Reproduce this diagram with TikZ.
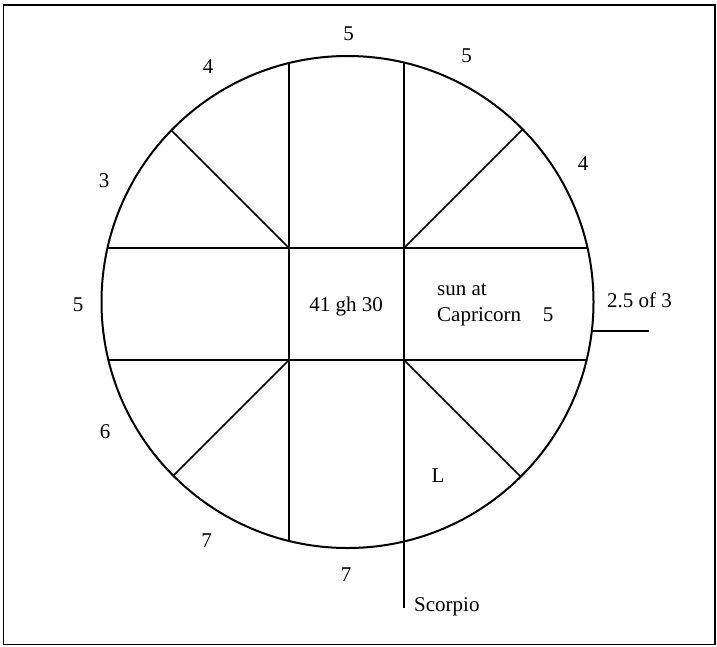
\documentclass[tikz,border=0pt]{standalone}
\usepackage{fontspec}
\setmainfont{Liberation Serif}
\begin{document}
\begin{tikzpicture}[x=1pt,y=-1pt,
    lbl/.style={font=\fontsize{21}{25}\selectfont, inner sep=0pt, anchor=base},
    rim/.style={line width=2pt},
    spoke/.style={line width=1.6pt}]
    \useasboundingbox (0,0) rectangle (717,646);

    % Draw frame
    \draw[line width=1.8pt] (3.5,5) rectangle (715,644.5);

    % Draw wheel
    \coordinate (hub) at (347.5,302);
    \draw[rim] (hub) circle[radius=246pt];

    % Inner square corners
    \coordinate (nw) at (289,248);
    \coordinate (ne) at (404,248);
    \coordinate (sw) at (289,360);
    \coordinate (se) at (404,360);

    % Points on the rim
    \coordinate (rimWN) at (107.5,248);
    \coordinate (rimEN) at (587.5,248);
    \coordinate (rimWS) at (108.4,360);
    \coordinate (rimES) at (586.6,360);
    \coordinate (rimNW) at (289,63);
    \coordinate (rimNE) at (404,62.6);
    \coordinate (rimSW) at (289,541);
    \coordinate (tail) at (404,608);
    \coordinate (diagNW) at (171.3,130.3);
    \coordinate (diagNE) at (522.7,129.3);
    \coordinate (diagSW) at (173.3,475.7);
    \coordinate (diagSE) at (520.7,476.7);

    % Draw chords
    \draw[spoke] (rimWN) -- (rimEN);
    \draw[spoke] (rimWS) -- (rimES);
    \draw[spoke] (rimNW) -- (rimSW);
    \draw[spoke] (rimNE) -- (tail);

    % Draw diagonals
    \draw[spoke] (nw) -- (diagNW);
    \draw[spoke] (ne) -- (diagNE);
    \draw[spoke] (sw) -- (diagSW);
    \draw[spoke] (se) -- (diagSE);

    % Marker line on the right
    \coordinate (markA) at (591.8,331);
    \coordinate (markB) at (649,331);
    \draw[spoke] (markA) -- (markB);

    % Labels round the rim
    \node[lbl] (topfive) at (348.5,40.5) {5};
    \node[lbl] (nefive) at (466.5,62) {5};
    \node[lbl] (nwfour) at (208,73) {4};
    \node[lbl] (efour) at (583,170.5) {4};
    \node[lbl] (wthree) at (104,187) {3};
    \node[lbl] (wfive) at (78,311) {5};
    \node[lbl] (wsix) at (105,438) {6};
    \node[lbl] (swseven) at (206.6,547) {7};
    \node[lbl] (sseven) at (346,581) {7};

    % Labels inside
    \node[lbl] (centre) at (346,311) {41 gh 30};
    \node[lbl, anchor=base west] (sunat) at (437,295) {sun at};
    \node[lbl, anchor=base west] (capri) at (437,321) {Capricorn};
    \node[lbl] (capfive) at (548,321) {5};
    \node[lbl] (ell) at (438,482) {L};

    % Labels outside
    \node[lbl] (share) at (639.5,307) {2.5 of 3};
    \node[lbl, anchor=base west] (scorp) at (414,611) {Scorpio};
\end{tikzpicture}
\end{document}
